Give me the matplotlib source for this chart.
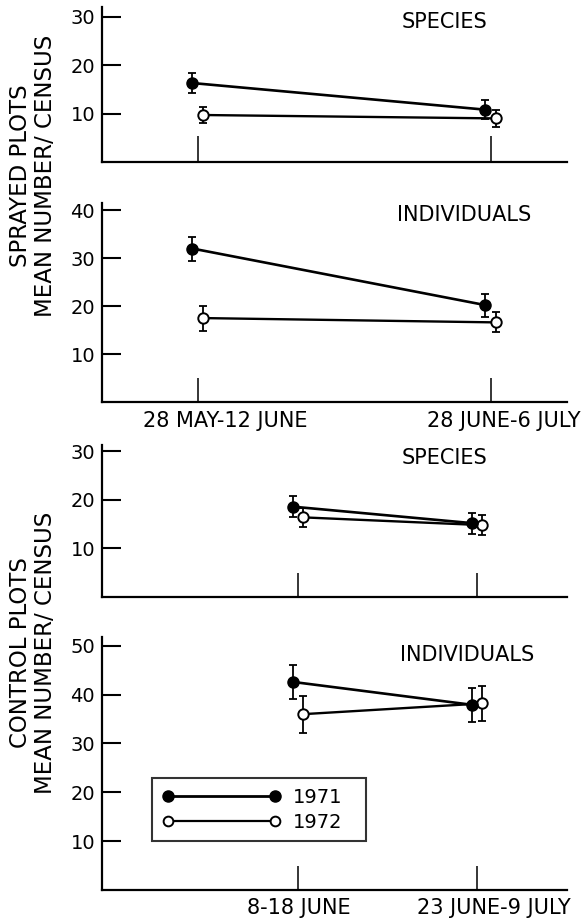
import matplotlib
matplotlib.use("Agg")
import matplotlib.pyplot as plt
from matplotlib.lines import Line2D

plt.rcParams['font.family'] = ['DejaVu Sans']

# ---- data ----
periods_sprayed = ["28 MAY-12 JUNE", "28 JUNE-6 JULY"]
periods_control = ["8-18 JUNE", "23 JUNE-9 JULY"]
years = ["1971", "1972"]

sprayed_species_1971 = [16.3, 10.8]
sprayed_species_1971_err = [2.0, 1.9]
sprayed_species_1972 = [9.7, 9.0]
sprayed_species_1972_err = [1.7, 1.7]

sprayed_ind_1971 = [32.0, 20.2]
sprayed_ind_1971_err = [2.5, 2.4]
sprayed_ind_1972 = [17.5, 16.6]
sprayed_ind_1972_err = [2.6, 2.1]

control_species_1971 = [18.6, 15.2]
control_species_1971_err = [2.1, 2.2]
control_species_1972 = [16.4, 14.8]
control_species_1972_err = [2.0, 2.0]

control_ind_1971 = [42.6, 37.9]
control_ind_1971_err = [3.5, 3.5]
control_ind_1972 = [36.0, 38.2]
control_ind_1972_err = [3.8, 3.5]

sprayed_species_ticks = [10, 20, 30]
sprayed_ind_ticks = [10, 20, 30, 40]
control_species_ticks = [10, 20, 30]
control_ind_ticks = [10, 20, 30, 40, 50]

W, H = 585, 919
fig = plt.figure(figsize=(W / 100, H / 100), dpi=100)


def add_axes(left, right, top, bottom):
    return fig.add_axes([left / W, 1 - bottom / H, (right - left) / W, (bottom - top) / H])


def style(ax, yticks, ylim, xlim, xtick_len):
    ax.set_xlim(*xlim)
    ax.set_ylim(*ylim)
    for s in ("top", "right"):
        ax.spines[s].set_visible(False)
    for s in ("left", "bottom"):
        ax.spines[s].set_linewidth(1.6)
    ax.set_yticks(yticks)
    ax.set_yticklabels([str(t) for t in yticks])
    ax.tick_params(axis="y", direction="in", length=14, width=1.5, pad=5, labelsize=14)
    ax.set_xticks([0, 1])
    ax.set_xticklabels(["", ""])
    ax.tick_params(axis="x", direction="in", length=xtick_len, width=1.1)


def draw(ax, v71, e71, v72, e72, off):
    x = [0, 1]
    x71 = [p - off for p in x]
    x72 = [p + off for p in x]
    ax.errorbar(x71, v71, yerr=e71, fmt="none", ecolor="black", elinewidth=1.3,
                capsize=3, capthick=1.3, zorder=2)
    ax.errorbar(x72, v72, yerr=e72, fmt="none", ecolor="black", elinewidth=1.3,
                capsize=3, capthick=1.3, zorder=2)
    ax.plot(x72, v72, color="black", lw=1.7, marker="o", ms=7.5, mfc="white",
            mec="black", mew=1.4, zorder=3)
    ax.plot(x71, v71, color="black", lw=1.9, marker="o", ms=8, mfc="black",
            mec="black", zorder=4)


def xlabels(ax, labels, dxs, dy):
    for pos, lab, dx in zip([0, 1], labels, dxs):
        ax.annotate(lab, xy=(pos, 0), xycoords=("data", "axes fraction"),
                    xytext=(dx, dy), textcoords="offset pixels",
                    ha="center", va="center", fontsize=15)


# sprayed panels: ticks at x=198 and 491 px
unit_s = 491 - 198
xlim_s = (-(198 - 102) / unit_s, (567 - 198) / unit_s)
off_s = 5.5 / unit_s
# control panels: ticks at x=298 and 477.5 px
unit_c = 477.5 - 298
xlim_c = (-(298 - 102) / unit_c, (567 - 298) / unit_c)
off_c = 5.0 / unit_c

ax1 = add_axes(102, 567, 7, 162)
style(ax1, sprayed_species_ticks, (0, 32), xlim_s, 19)
draw(ax1, sprayed_species_1971, sprayed_species_1971_err,
     sprayed_species_1972, sprayed_species_1972_err, off_s)
ax1.text(0.7376, 0.903, "SPECIES", transform=ax1.transAxes, ha="center", va="center", fontsize=15)

ax2 = add_axes(102, 567, 203, 402)
style(ax2, sprayed_ind_ticks, (0, 41.5), xlim_s, 17)
draw(ax2, sprayed_ind_1971, sprayed_ind_1971_err,
     sprayed_ind_1972, sprayed_ind_1972_err, off_s)
ax2.text(0.7785, 0.94, "INDIVIDUALS", transform=ax2.transAxes, ha="center", va="center", fontsize=15)
xlabels(ax2, periods_sprayed, [27, 13], -19)

ax3 = add_axes(102, 567, 445, 597)
style(ax3, control_species_ticks, (0, 31.3), xlim_c, 17)
draw(ax3, control_species_1971, control_species_1971_err,
     control_species_1972, control_species_1972_err, off_c)
ax3.text(0.7355, 0.914, "SPECIES", transform=ax3.transAxes, ha="center", va="center", fontsize=15)

ax4 = add_axes(102, 567, 637, 890)
style(ax4, control_ind_ticks, (0, 51.8), xlim_c, 17)
draw(ax4, control_ind_1971, control_ind_1971_err,
     control_ind_1972, control_ind_1972_err, off_c)
ax4.text(0.785, 0.929, "INDIVIDUALS", transform=ax4.transAxes, ha="center", va="center", fontsize=15)
xlabels(ax4, periods_control, [1, 16], -18)

handles = [
    Line2D([], [], color="black", lw=2.0, marker="o", ms=8, mfc="black", mec="black"),
    Line2D([], [], color="black", lw=1.6, marker="o", ms=7, mfc="white", mec="black", mew=1.4),
]
leg = ax4.legend(handles, years, loc="upper left", mode="expand",
                 bbox_to_anchor=((152 - 102) / 465, (890 - 846) / 253, 214 / 465, 68 / 253),
                 borderaxespad=0, numpoints=2, handlelength=6.1, handletextpad=0.65,
                 fontsize=14, frameon=True, fancybox=False, borderpad=0.5, labelspacing=0.3)
leg.get_frame().set_edgecolor("black")
leg.get_frame().set_linewidth(1.5)

fig.text(33 / W, 1 - 176 / H, "SPRAYED PLOTS\nMEAN NUMBER/ CENSUS", rotation=90,
         ha="center", va="center", multialignment="center", fontsize=16.5, linespacing=1.1)
fig.text(33 / W, 1 - 653 / H, "CONTROL PLOTS\nMEAN NUMBER/ CENSUS", rotation=90,
         ha="center", va="center", multialignment="center", fontsize=16.5, linespacing=1.1)

fig.savefig("out.png", dpi=100, facecolor="white")
